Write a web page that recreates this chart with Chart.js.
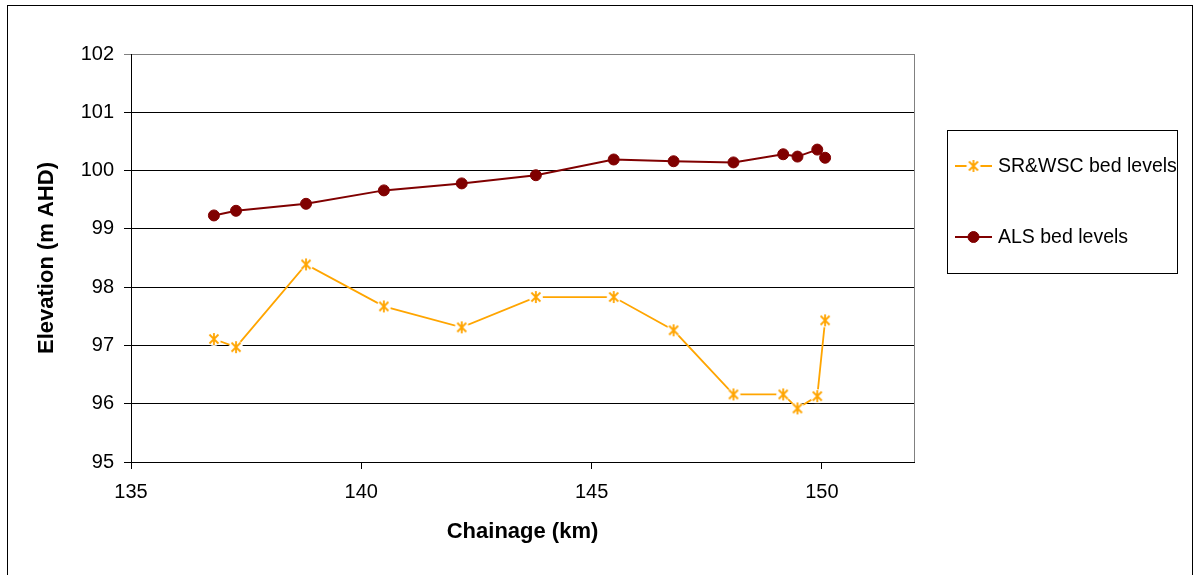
<!DOCTYPE html>
<html><head><meta charset="utf-8">
<script src="https://cdn.jsdelivr.net/npm/chart.js@4.4.0/dist/chart.umd.min.js"></script>
<style>html,body{margin:0;padding:0;background:#fff;}#wrap{width:1195px;height:575px;position:relative;}</style>
</head><body><div id="wrap"><canvas id="c" width="1195" height="575"></canvas></div>
<script>
const chainage = [136.80, 137.28, 138.80, 140.49, 142.18, 143.79, 145.48, 146.78, 148.08, 149.16, 149.47, 149.90, 150.07];
const srwscLevels = [97.11, 96.97, 98.39, 97.67, 97.31, 97.83, 97.83, 97.26, 96.16, 96.16, 95.92, 96.13, 97.43];
const alsLevels = [99.23, 99.31, 99.43, 99.66, 99.78, 99.92, 100.19, 100.16, 100.14, 100.28, 100.24, 100.36, 100.22];
const seriesLabels = ['SR&WSC bed levels', 'ALS bed levels'];
const xTickValues = [135, 140, 145, 150];
const xMin = 135, xMax = 152;
const yMin = 95, yMax = 102;
const xTitle = 'Chainage (km)';
const yTitle = 'Elevation (m AHD)';

const ORANGE = '#FFA500', MAROON = '#800000';
const FONT = "'Liberation Sans', Arial, sans-serif";

// Excel-like asterisk marker with a white halo
const starMarker = (() => {
  const c = document.createElement('canvas');
  c.width = 16; c.height = 16;
  const g = c.getContext('2d');
  g.fillStyle = '#fff';
  g.beginPath(); g.arc(8, 8, 7, 0, Math.PI * 2); g.fill();
  g.strokeStyle = ORANGE; g.lineWidth = 1.8; g.lineCap = 'butt';
  g.beginPath();
  g.moveTo(3.5, 3.5); g.lineTo(12.5, 12.5);
  g.moveTo(12.5, 3.5); g.lineTo(3.5, 12.5);
  g.moveTo(8, 2); g.lineTo(8, 14);
  g.stroke();
  return c;
})();

const toXY = (ys) => chainage.map((x, i) => ({x: x, y: ys[i]}));

const frame = {
  id: 'frame',
  afterDraw(chart) {
    const ctx = chart.ctx, a = chart.chartArea;
    ctx.save();
    ctx.strokeStyle = '#808080'; ctx.lineWidth = 1;
    ctx.beginPath(); ctx.moveTo(Math.round(a.right) + 0.5, a.top); ctx.lineTo(Math.round(a.right) + 0.5, a.bottom); ctx.stroke();
    ctx.strokeStyle = '#000';
    ctx.strokeRect(7.5, 5.5, 1185, 580);
    ctx.strokeRect(947.5, 130.5, 230, 143);
    const rows = [166, 237];
    chart.data.datasets.forEach((ds, i) => {
      const y = rows[i];
      ctx.strokeStyle = ds.borderColor; ctx.lineWidth = ds.borderWidth;
      ctx.beginPath(); ctx.moveTo(955, y); ctx.lineTo(992, y); ctx.stroke();
      ctx.fillStyle = ds.pointBackgroundColor; ctx.strokeStyle = ds.pointBorderColor;
      ctx.lineWidth = ds.pointBorderWidth;
      Chart.helpers.drawPoint(ctx, {pointStyle: ds.pointStyle, radius: ds.pointRadius, rotation: 0, borderWidth: ds.pointBorderWidth}, 973.5, y);
      ctx.fillStyle = '#000'; ctx.font = '19.5px ' + FONT; ctx.textBaseline = 'middle'; ctx.textAlign = 'left';
      ctx.fillText(ds.label, 998, y + 1);
    });
    ctx.restore();
  }
};

new Chart(document.getElementById('c'), {
  type: 'line',
  data: {
    datasets: [
      {label: seriesLabels[0], data: toXY(srwscLevels), borderColor: ORANGE, borderWidth: 1.8,
       pointStyle: starMarker, pointRadius: 6, pointBorderColor: ORANGE, pointBackgroundColor: ORANGE, pointBorderWidth: 1.8, tension: 0},
      {label: seriesLabels[1], data: toXY(alsLevels), borderColor: MAROON, borderWidth: 2,
       pointStyle: 'circle', pointRadius: 5.5, pointBorderColor: MAROON, pointBackgroundColor: MAROON, pointBorderWidth: 1, tension: 0}
    ]
  },
  options: {
    responsive: false, animation: false, devicePixelRatio: 1,
    layout: {padding: {left: 0, top: 54, right: 281, bottom: 0}},
    plugins: {legend: {display: false}, tooltip: {enabled: false}},
    scales: {
      x: {
        type: 'linear', min: xMin, max: xMax,
        afterBuildTicks: (s) => { s.ticks = xTickValues.map(v => ({value: v})); },
        afterFit: (s) => { s.height = 113; },
        grid: {drawOnChartArea: false, drawTicks: true, tickLength: 7, color: '#000'},
        border: {display: true, color: '#000', width: 1},
        ticks: {color: '#000', font: {family: FONT, size: 20}, padding: 11, maxRotation: 0},
        title: {display: true, text: xTitle, color: '#000', font: {family: FONT, size: 22, weight: 'bold'}, padding: {top: 0, bottom: 30}}
      },
      y: {
        type: 'linear', min: yMin, max: yMax,
        ticks: {stepSize: 1, color: '#000', font: {family: FONT, size: 20}, padding: 10},
        afterFit: (s) => { s.width = 131; },
        grid: {color: (c) => (c.tick && c.tick.value === yMax) ? '#808080' : '#000', tickLength: 7, drawTicks: true},
        border: {display: true, color: '#000', width: 1},
        title: {display: true, text: yTitle, color: '#000', font: {family: FONT, size: 22, weight: 'bold'}, padding: {top: 34, bottom: 0}}
      }
    }
  },
  plugins: [frame]
});
</script></body></html>
